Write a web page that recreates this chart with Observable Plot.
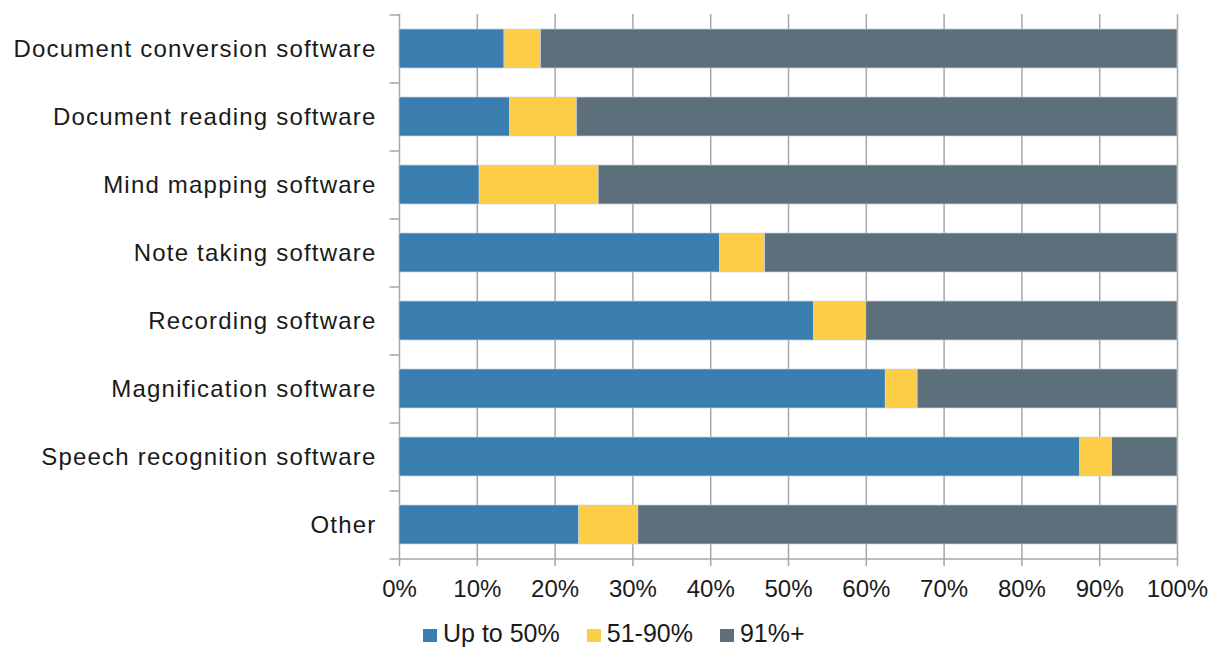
<!DOCTYPE html>
<html>
<head>
<meta charset="utf-8">
<script src="https://cdn.jsdelivr.net/npm/d3@7"></script>
<script src="https://cdn.jsdelivr.net/npm/@observablehq/plot@0.6"></script>
<style>
  body { margin: 0; background: #fff; font-family: "Liberation Sans", Arial, sans-serif; }
  #chart svg { display: block; }
  .legend { display: flex; align-items: center; margin-left: 423px; height: 30px; font-size: 25px; color: #1a1a1a; }
  .legend .item { display: flex; align-items: center; margin-right: 27px; }
  .legend .sw { width: 14px; height: 13px; margin-right: 6px; margin-top: 4px; }
</style>
</head>
<body>
<div id="chart"></div>
<script>
const categories = [
  "Document conversion software",
  "Document reading software",
  "Mind mapping software",
  "Note taking software",
  "Recording software",
  "Magnification software",
  "Speech recognition software",
  "Other"
];
const seriesNames = ["Up to 50%", "51-90%", "91%+"];
const upTo50 = [13.5, 14.2, 10.3, 41.2, 53.3, 62.5, 87.5, 23.1];
const mid51to90 = [4.7, 8.6, 15.3, 5.8, 6.7, 4.1, 4.1, 7.6];
const over91 = [81.8, 77.2, 74.4, 53.0, 40.0, 33.4, 8.4, 69.3];
const colors = ["#3A7EB0", "#FECD46", "#5C6F7A"];
const xTicks = [0, 10, 20, 30, 40, 50, 60, 70, 80, 90, 100];

const seriesValues = [upTo50, mid51to90, over91];
const data = [];
seriesNames.forEach((s, si) => {
  categories.forEach((c, ci) => data.push({category: c, series: s, value: seriesValues[si][ci]}));
});

const width = 1219, height = 618;
const marginTop = 14, marginBottom = 60, marginLeft = 399, marginRight = 42;
const step = (height - marginTop - marginBottom) / categories.length;
const gray = "#a6a6a6";

const chart = Plot.plot({
  width, height, marginTop, marginBottom, marginLeft, marginRight,
  style: {fontFamily: "'Liberation Sans', Arial, sans-serif", color: "#1a1a1a", background: "#fff"},
  x: {domain: [0, 100], ticks: xTicks, tickFormat: d => d + "%", label: null},
  y: {domain: categories, paddingInner: 0.43, paddingOuter: 0.215, label: null},
  color: {domain: seriesNames, range: colors},
  marks: [
    Plot.ruleX(xTicks, {stroke: gray, strokeWidth: 1.5}),
    Plot.barX(data, Plot.stackX({y: "category", x: "value", fill: "series", order: seriesNames, stroke: "#c9d5df", strokeWidth: 0.7})),
    Plot.ruleY(categories, {y: d => d, x1: -1.2, x2: 0, dy: -step / 2, stroke: gray, strokeWidth: 1.5}),
    Plot.ruleY([categories[categories.length - 1]], {y: d => d, x1: -1.2, x2: 0, dy: step / 2, stroke: gray, strokeWidth: 1.5}),
    Plot.ruleY([categories[categories.length - 1]], {y: d => d, x1: 0, x2: 100, dy: step / 2, stroke: gray, strokeWidth: 1.5}),
    Plot.axisX({ticks: xTicks, tickFormat: d => d + "%", tickSize: 8, tickPadding: 13, stroke: gray, strokeWidth: 1.5, fontSize: 24, label: null}),
    Plot.axisY({tickSize: 0, tickPadding: 23, fontSize: 24, label: null})
  ]
});

chart.querySelectorAll("[aria-label='y-axis tick label'] text").forEach(t => t.style.letterSpacing = "1.2px");
document.getElementById("chart").appendChild(chart);

const legend = document.createElement("div");
legend.className = "legend";
seriesNames.forEach((s, i) => {
  const item = document.createElement("div");
  item.className = "item";
  const sw = document.createElement("span");
  sw.className = "sw";
  sw.style.background = colors[i];
  const label = document.createElement("span");
  label.textContent = s;
  item.appendChild(sw);
  item.appendChild(label);
  legend.appendChild(item);
});
document.body.appendChild(legend);
</script>
</body>
</html>
